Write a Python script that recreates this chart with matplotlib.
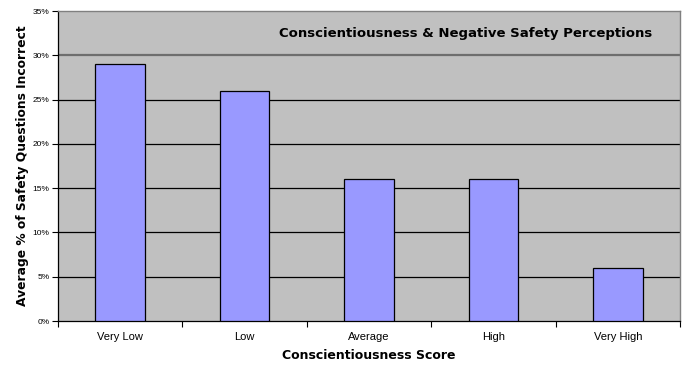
import numpy as np
import matplotlib.pyplot as plt
from matplotlib.ticker import PercentFormatter

categories = ['Very Low', 'Low', 'Average', 'High', 'Very High']
pct_incorrect = [29, 26, 16, 16, 6]

fig = plt.figure(figsize=(6.92, 3.67), dpi=100)
ax = fig.add_axes([58 / 692, 1 - 321 / 367, 622 / 692, 310 / 367])
ax.set_facecolor('#C0C0C0')

x = np.arange(len(categories))
ax.bar(x, pct_incorrect, width=0.4, color='#9999FF', edgecolor='black',
       linewidth=0.9, zorder=3)

ax.set_xlim(-0.5, len(categories) - 0.5)
ax.set_ylim(0, 35)
ax.set_yticks(np.arange(0, 36, 5))
ax.yaxis.set_major_formatter(PercentFormatter(decimals=0))
for v in range(5, 30, 5):
    ax.axhline(v, color='black', linewidth=0.9, zorder=1)

# category labels sit between boundary tick marks
ax.set_xticks(x)
ax.set_xticklabels(categories, fontsize=8, family='Liberation Sans')
ax.tick_params(axis='x', length=0, pad=8)
ax.set_xticks(np.arange(-0.5, len(categories)), minor=True)
ax.tick_params(axis='x', which='minor', length=4, width=0.8, direction='out')
ax.tick_params(axis='y', length=4, width=0.8, labelsize=6, pad=2,
               direction='out')
for lbl in ax.get_yticklabels():
    lbl.set_family('Liberation Sans')

for side in ('top', 'right'):
    ax.spines[side].set_color('#808080')
    ax.spines[side].set_linewidth(1.0)
for side in ('left', 'bottom'):
    ax.spines[side].set_color('black')
    ax.spines[side].set_linewidth(0.9)

# title box across the top band of the plot
ax.axhline(30, color='#6E6E6E', linewidth=1.6, zorder=2)
ax.text(0.955, 32.5 / 35, 'Conscientiousness & Negative Safety Perceptions',
        transform=ax.transAxes, ha='right', va='center', fontsize=9.5,
        fontweight='bold', family='DejaVu Sans')

ax.set_xlabel('Conscientiousness Score', fontsize=9, fontweight='bold',
              labelpad=5)
ax.set_ylabel('Average % of Safety Questions Incorrect', fontsize=8.8,
              fontweight='bold', labelpad=3)

fig.savefig('out.png', dpi=100)
